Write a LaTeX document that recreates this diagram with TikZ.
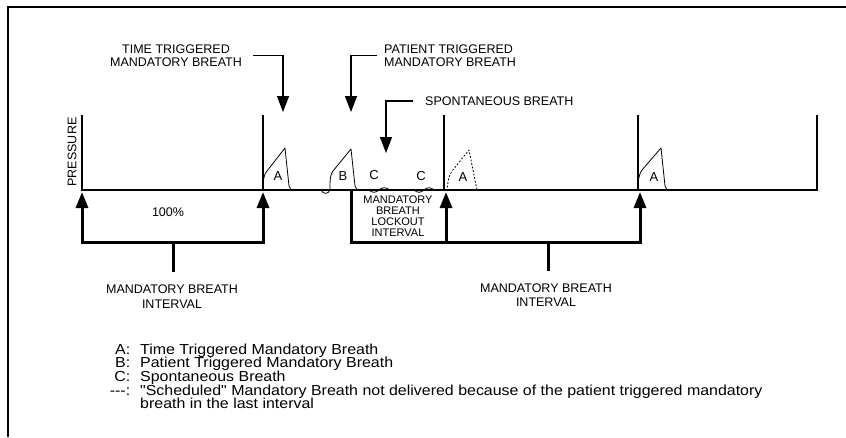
\documentclass[tikz,border=0pt]{standalone}
\usepackage{fontspec}
\setmainfont{Liberation Sans}
\newfontfamily\legfont{Liberation Sans}[FakeStretch=1.1]
\usetikzlibrary{arrows.meta}
\begin{document}
\begin{tikzpicture}[x=1pt,y=-1pt,
  >={Triangle[width=12pt,length=16pt]},
  capsl/.style={font=\fontsize{12.5}{13.5}\selectfont, inner sep=0pt, align=center},
  lockl/.style={font=\fontsize{11}{11.1}\selectfont, inner sep=0pt, align=center},
  legl/.style={font=\legfont\fontsize{14.5}{13.7}\selectfont, inner sep=0pt, anchor=base west},
  letl/.style={font=\fontsize{13}{13}\selectfont, inner sep=0pt},
  leader/.style={line width=1.4pt, ->},
  bracketl/.style={line width=3pt, line join=miter},
  axisl/.style={line width=1.3pt},
  breath/.style={line width=0.8pt, line join=round},
]
\useasboundingbox (0,0) rectangle (846,437);
% frame
\draw[line width=2.2pt] (846,7) -- (8,7) -- (8,437);
% axis and interval ticks
\coordinate (o) at (82,190);
\coordinate (e) at (817,190);
\draw[axisl] (82,115) -- (o) -- (e) -- (817,115);
\coordinate (k1) at (263,190);
\coordinate (k2) at (444,190);
\coordinate (k3) at (638,190);
\draw[axisl] (263,115) -- (k1);
\draw[axisl] (444,115) -- (k2);
\draw[axisl] (638,115) -- (k3);
\node[capsl, rotate=90] (pres) at (72,152) {PRESSURE};
% breaths
\draw[breath] (263,190) .. controls (263,180) and (264,174) .. (267,171) -- (285,148) -- (289,186) .. controls (290,189) and (291,190) .. (294,190);
\draw[breath] (321,190) .. controls (323,194.5) and (328,194.5) .. (330,190) .. controls (330,180) and (330,175) .. (333,171) -- (351,149) -- (355,186) .. controls (356,189) and (357,190) .. (360,190);
\draw[breath] (369,190) .. controls (372,193) and (376,193) .. (379,190) .. controls (382,187) and (386,187) .. (390,190);
\draw[breath] (414,190) .. controls (417,193) and (421,193) .. (424,190) .. controls (427,187) and (431,187) .. (434,190);
\draw[breath, dash pattern=on 1.8pt off 1.8pt] (447,191) .. controls (448,180) and (449,175) .. (452,171) -- (469,150) -- (477,190);
\draw[breath] (638,190) .. controls (638,180) and (639,174) .. (642,170) -- (661,148) -- (665,186) .. controls (666,189) and (667,190) .. (670,190);
\node[letl] (la1) at (278,176) {A};
\node[letl] (lb) at (343,176) {B};
\node[letl] (lc1) at (374,175) {C};
\node[letl] (lc2) at (421,176) {C};
\node[letl] (la2) at (463,177) {A};
\node[letl] (la3) at (654,177) {A};
% top labels and leaders
\node[capsl] (ttl) at (176,55.5) {TIME TRIGGERED\\MANDATORY BREATH};
\node[capsl, align=left, anchor=west] (ptl) at (384,55.5) {PATIENT TRIGGERED\\MANDATORY BREATH};
\node[capsl, anchor=west] (spl) at (425,101) {SPONTANEOUS BREATH};
\coordinate (t1) at (283,112);
\coordinate (t2) at (351,112);
\coordinate (t3) at (386,153);
\draw[leader] ([xshift=11pt]ttl.east) -| (t1);
\draw[leader] ([xshift=-7pt]ptl.west) -| (t2);
\draw[leader] ([xshift=-12pt]spl.west) -| (t3);
% brackets
\coordinate (m0) at (82,192);
\coordinate (m1) at (263,192);
\coordinate (m2) at (446,192);
\coordinate (m3) at (640,192);
\coordinate (c0) at (82,242);
\coordinate (c1) at (263,242);
\coordinate (c2) at (351,242);
\coordinate (c3) at (640,242);
\coordinate (c4) at (446,242);
\coordinate (s1) at (173,242);
\coordinate (s1e) at (173,272);
\coordinate (s2) at (548,242);
\coordinate (s2e) at (548,271);
\coordinate (lk) at (351,190);
\draw[bracketl, <->] (m0) -- (c0) -- (c1) -- (m1);
\draw[bracketl] (s1) -- (s1e);
\draw[bracketl, ->] (lk) -- (c2) -- (c3) -- (m3);
\draw[bracketl, ->] (c4) -- (m2);
\draw[bracketl] (s2) -- (s2e);
\node[capsl, font=\fontsize{12.5}{15}\selectfont] (mbi1) at (172,296.5) {MANDATORY BREATH\\INTERVAL};
\node[capsl, font=\fontsize{12.5}{14}\selectfont] (mbi2) at (546,295) {MANDATORY BREATH\\INTERVAL};
\node[capsl] (pct) at (168,212) {100\%};
\node[lockl] (lock) at (398,216) {MANDATORY\\BREATH\\LOCKOUT\\INTERVAL};
% legend
\node[legl] (legend) at (106,354) {%
  \begin{tabular}[t]{@{}r@{\hspace{10pt}}l@{}}
  \makebox[24pt][r]{\smash{A:}} & \smash{Time Triggered Mandatory Breath}\\
  \smash{B:} & \smash{Patient Triggered Mandatory Breath}\\
  \smash{C:} & \smash{Spontaneous Breath}\\
  \smash{---:} & \smash{"Scheduled" Mandatory Breath not delivered because of the patient triggered mandatory}\\
   & \smash{breath in the last interval}
  \end{tabular}};
\end{tikzpicture}
\end{document}
